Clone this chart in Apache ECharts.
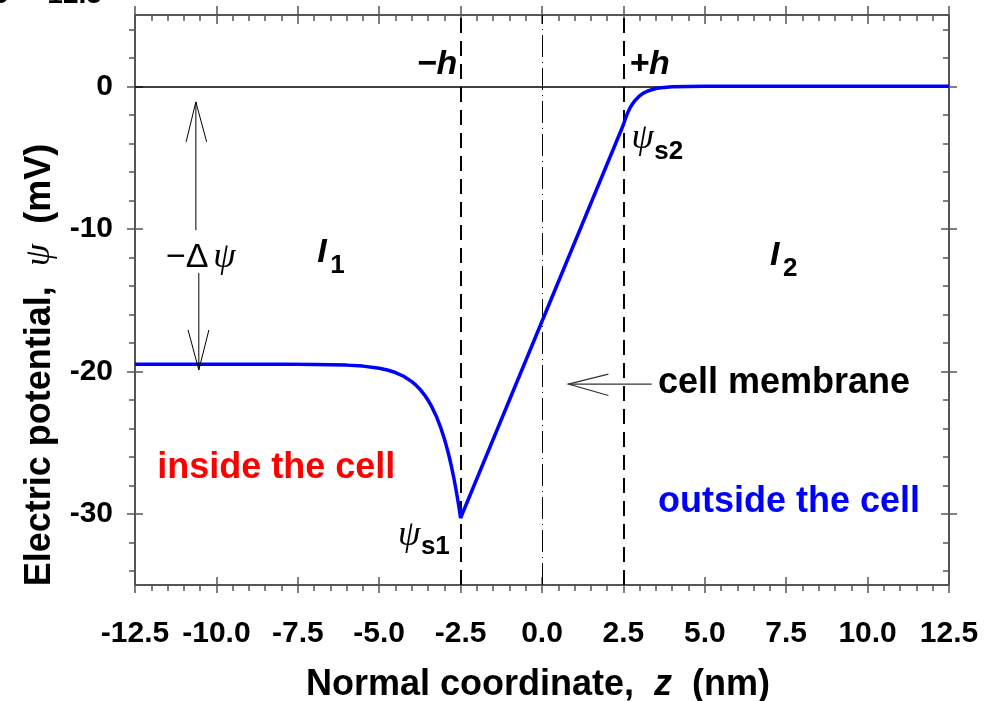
<!DOCTYPE html>
<html><head><meta charset="utf-8">
<script src="https://cdn.jsdelivr.net/npm/echarts@6/dist/echarts.min.js"></script>
<style>html,body{margin:0;padding:0;background:#fff}#c{width:994px;height:701px}</style>
</head><body><div id="c"></div>
<script>
// ---- data ----
const zCoord = [-12.5, -10, -8, -7, -6, -5.5, -5, -4.75, -4.5, -4.25, -4, -3.9, -3.75, -3.6, -3.5, -3.4, -3.25, -3.1, -3, -2.95, -2.9, -2.85, -2.8, -2.75, -2.7, -2.65, -2.6, -2.55, -2.5,
  2.5, 2.55, 2.6, 2.65, 2.7, 2.75, 2.85, 3, 3.1, 3.25, 3.5, 3.75, 4, 4.5, 5, 7.5, 10, 12.5];
const psiValues = [-19.5, -19.5, -19.5, -19.52, -19.57, -19.64, -19.79, -19.91, -20.09, -20.35, -20.73, -20.92, -21.26, -21.69, -22.03, -22.43, -23.14, -24.03, -24.73, -25.13, -25.55, -26.0, -26.49, -27.02, -27.58, -28.19, -28.84, -29.55, -30.3,
  -2.7, -2.35, -2.04, -1.77, -1.54, -1.34, -1.01, -0.67, -0.5, -0.33, -0.16, -0.08, -0.04, -0.01, 0, 0, 0, 0];
const xTickLabels = ['-12.5', '-10.0', '-7.5', '-5.0', '-2.5', '0.0', '2.5', '5.0', '7.5', '10.0', '12.5'];
const xMajorTicks = [-12.5, -10, -7.5, -5, -2.5, 0, 2.5, 5, 7.5, 10, 12.5];
const xMinorTicks = [-12, -11.5, -11, -10.5, -9.5, -9, -8.5, -8, -7, -6.5, -6, -5.5, -4.5, -4, -3.5, -3, -2, -1.5, -1, -0.5,
  0.5, 1, 1.5, 2, 3, 3.5, 4, 4.5, 5.5, 6, 6.5, 7, 8, 8.5, 9, 9.5, 10.5, 11, 11.5, 12];
const yMajorTicks = [-30, -20, -10, 0];
const yMinorTicks = [-34, -32, -28, -26, -24, -22, -18, -16, -14, -12, -8, -6, -4, -2, 2, 4];
const memEdges = [-2.5, 2.5];
const memCenter = 0;

// ---- chart ----
const FONT = '"Liberation Sans", Arial, sans-serif';
const AX = '#555';
const chart = echarts.init(document.getElementById('c'), null, {renderer: 'canvas'});
const data = zCoord.map((z, i) => [z, psiValues[i]]);

const tk = (inside, len, vals) => ({show: true, inside: inside, length: len, customValues: vals, lineStyle: {color: AX, width: 1.5}});
const LINE = {show: true, onZero: false, lineStyle: {color: AX, width: 2}};
const NOLINE = {show: false, onZero: false};
function xAx(pos, opts) {
  return Object.assign({
    type: 'value', position: pos, min: -12.5, max: 12.5, interval: 2.5,
    axisLine: NOLINE, axisLabel: {show: false}, splitLine: {show: false},
    axisTick: {show: false}, minorTick: {show: false}
  }, opts);
}
function yAx(pos, opts) {
  return Object.assign({
    type: 'value', position: pos, min: -35, max: 5,
    axisLine: NOLINE, axisLabel: {show: false}, splitLine: {show: false},
    axisTick: {show: false}, minorTick: {show: false}
  }, opts);
}
const xAxes = [
  xAx('bottom', {axisLine: LINE, axisTick: tk(false, 8, xMajorTicks),
    axisLabel: {show: true, customValues: xMajorTicks, margin: 34, color: '#000', fontSize: 30, fontWeight: 'bold', fontFamily: FONT,
      formatter: v => xTickLabels[xMajorTicks.indexOf(v)] ?? String(v)}}),
  xAx('bottom', {axisTick: tk(true, 8, xMajorTicks)}),
  xAx('bottom', {axisTick: tk(false, 6, xMinorTicks)}),
  xAx('top', {axisLine: LINE, axisTick: tk(true, 9, xMajorTicks)}),
  xAx('top', {axisTick: tk(false, 9, xMajorTicks)}),
  xAx('top', {axisTick: tk(true, 6, xMinorTicks)})
];
const yAxes = [
  yAx('left', {axisLine: LINE, axisTick: tk(true, 8, yMajorTicks),
    axisLabel: {show: true, customValues: yMajorTicks, margin: 22, color: '#000', fontSize: 30, fontWeight: 'bold', fontFamily: FONT}}),
  yAx('left', {axisTick: tk(false, 8, yMajorTicks)}),
  yAx('left', {axisTick: tk(false, 6, yMinorTicks)}),
  yAx('right', {axisLine: LINE, axisTick: tk(true, 8, yMajorTicks)}),
  yAx('right', {axisTick: tk(false, 8, yMajorTicks)}),
  yAx('right', {axisTick: tk(true, 6, yMinorTicks)})
];
// invisible helper series so that every frame axis is bound to the grid
const helpers = [];
for (let i = 1; i < 6; i++) {
  helpers.push({type: 'line', xAxisIndex: i, yAxisIndex: i, data: [[-12.5, -35]], silent: true, showSymbol: false,
    lineStyle: {opacity: 0}, itemStyle: {opacity: 0}, tooltip: {show: false}});
}

const option = {
  animation: false,
  backgroundColor: '#fff',
  grid: {left: 135, right: 45, top: 15, bottom: 116},
  xAxis: xAxes,
  yAxis: yAxes,
  series: [{
    type: 'line', xAxisIndex: 0, yAxisIndex: 0, data: data, showSymbol: false, z: 5,
    lineStyle: {color: '#0000ff', width: 3.5},
    markLine: {
      silent: true, symbol: 'none', label: {show: false}, animation: false,
      data: [
        {xAxis: memEdges[0], lineStyle: {color: '#000', width: 2, type: [15, 8]}},
        {xAxis: memEdges[1], lineStyle: {color: '#000', width: 2, type: [15, 8]}},
        {xAxis: memCenter, lineStyle: {color: '#000', width: 1, type: [22, 5, 1, 5]}},
        {yAxis: 0, lineStyle: {color: '#000', width: 1.5, type: 'solid'}}
      ]
    }
  }].concat(helpers)
};
chart.setOption(option);

// ---- annotations (anchored in data coordinates) ----
const P = (z, v) => chart.convertToPixel({xAxisIndex: 0, yAxisIndex: 0}, [z, v]);
function txt(z, v, text, font, fill, align) {
  const p = P(z, v);
  return {type: 'text', z: 20, style: {text: text, x: p[0], y: p[1], font: font, fill: fill || '#000',
    align: align || 'left', textAlign: align || 'left', verticalAlign: 'middle', textVerticalAlign: 'middle'}};
}
function line(pts, w, color) {
  return {type: 'polyline', z: 20, shape: {points: pts.map(q => P(q[0], q[1]))}, style: {stroke: color || '#000', lineWidth: w || 1, fill: null}};
}
const BI34 = 'italic bold 34px ' + FONT;
const B36 = 'bold 36px ' + FONT;
const PSI_FONT = 'italic 36px "Liberation Serif", serif';
const SUB = 'bold 26px ' + FONT;

const g = [
  txt(-2.6, 1.55, '\u2212h', BI34, '#000', 'right'),
  txt(2.68, 1.55, '+h', BI34),
  txt(2.75, -3.7, '\u03c8', PSI_FONT),
  txt(3.45, -4.6, 's2', SUB),
  txt(-4.42, -31.5, '\u03c8', PSI_FONT),
  txt(-3.72, -32.3, 's1', SUB),
  txt(-6.9, -11.7, 'I', BI34),
  txt(-6.5, -12.6, '1', SUB),
  txt(7.0, -11.9, 'I', BI34),
  txt(7.4, -12.8, '2', SUB),
  txt(-11.55, -12.0, '\u2212\u0394', '34px ' + FONT),
  txt(-10.1, -12.0, '\u03c8', PSI_FONT),
  txt(3.56, -20.82, 'cell membrane', B36),
  txt(-11.82, -26.8, 'inside the cell', B36, '#ff0000'),
  txt(3.56, -29.2, 'outside the cell', B36, '#0000ff'),
  // arrows
  line([[-10.63, -10.1], [-10.63, -1.1]]),
  line([[-10.93, -3.9], [-10.63, -1.1], [-10.30, -3.9]]),
  line([[-10.54, -13.1], [-10.54, -19.91]]),
  line([[-10.87, -17.1], [-10.54, -19.91], [-10.23, -17.1]]),
  line([[3.37, -20.9], [0.81, -20.9]], 1.2, '#333'),
  line([[2.04, -20.2], [0.81, -20.9], [2.04, -21.7]], 1.2, '#333'),
  // axis titles
  {type: 'text', z: 20, x: 538, y: 685, style: {text: '{a|Normal coordinate,  }{i|z}{a|  (nm)}', x: 0, y: 0,
    align: 'center', textAlign: 'center', verticalAlign: 'middle', textVerticalAlign: 'middle',
    rich: {a: {font: 'bold 36px ' + FONT, fill: '#000', color: '#000'}, i: {font: 'italic bold 36px ' + FONT, fill: '#000', color: '#000'}}}},
  {type: 'text', z: 20, x: 40, y: 365, rotation: Math.PI / 2, style: {text: '{a|Electric potential,  }{p|\u03c8}{a|  (mV)}', x: 0, y: 0,
    align: 'center', textAlign: 'center', verticalAlign: 'middle', textVerticalAlign: 'middle',
    rich: {a: {font: 'bold 36px ' + FONT, fill: '#000', color: '#000'}, p: {font: 'italic 36px "Liberation Serif", serif', fill: '#000', color: '#000'}}}},
  // clipped text at the very top-left edge
  {type: 'text', z: 20, style: {text: '0', x: 9, y: 9, font: 'bold 28px ' + FONT, fill: '#000', align: 'right', textAlign: 'right', verticalAlign: 'bottom', textVerticalAlign: 'bottom'}},
  {type: 'text', z: 20, style: {text: '-12.5', x: 38, y: 9, font: 'bold 28px ' + FONT, fill: '#000', align: 'left', textAlign: 'left', verticalAlign: 'bottom', textVerticalAlign: 'bottom'}}
];
chart.setOption({graphic: {elements: g}});
</script></body></html>
